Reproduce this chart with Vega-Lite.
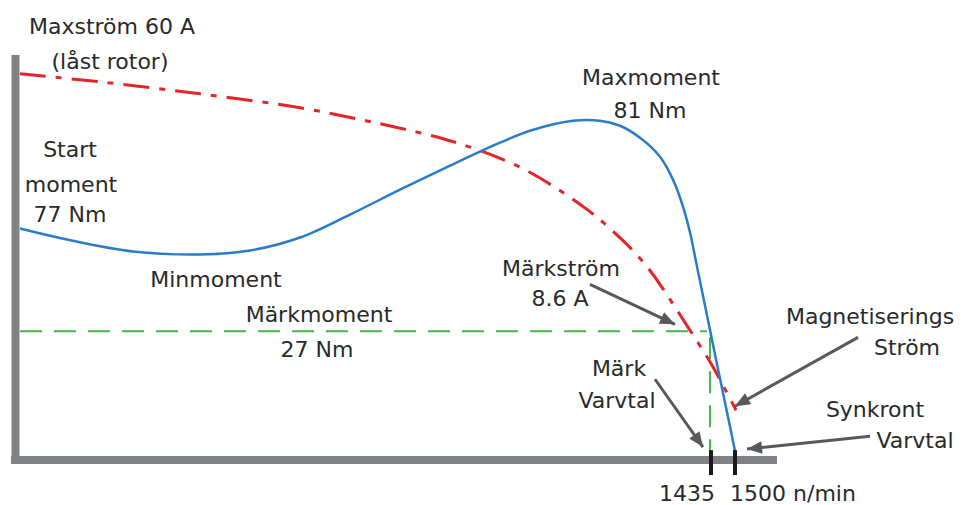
{
  "$schema": "https://vega.github.io/schema/vega-lite/v6.json",
  "width": 961,
  "height": 505,
  "autosize": {"type": "fit", "contains": "padding"},
  "padding": 0,
  "background": "white",
  "config": {"view": {"stroke": null}, "text": {"font": "DejaVu Sans", "fontSize": 22, "color": "#2a2a2a"}},
  "datasets": {
    "torque": [
      {"x": 20, "y": 276}, {"x": 67, "y": 265}, {"x": 133, "y": 253}, {"x": 200, "y": 250},
      {"x": 250, "y": 254}, {"x": 300, "y": 267}, {"x": 350, "y": 290}, {"x": 400, "y": 315},
      {"x": 450, "y": 339}, {"x": 500, "y": 362}, {"x": 530, "y": 374}, {"x": 573, "y": 384},
      {"x": 600, "y": 384}, {"x": 620, "y": 379}, {"x": 640, "y": 367}, {"x": 660, "y": 348},
      {"x": 673, "y": 325}, {"x": 683, "y": 298}, {"x": 690, "y": 272}, {"x": 697, "y": 238},
      {"x": 706, "y": 194}, {"x": 716, "y": 145}, {"x": 726, "y": 97}, {"x": 735, "y": 53}
    ],
    "current": [
      {"x": 20, "y": 431}, {"x": 100, "y": 423}, {"x": 200, "y": 411}, {"x": 300, "y": 397},
      {"x": 380, "y": 381}, {"x": 443, "y": 366}, {"x": 483, "y": 353}, {"x": 523, "y": 336},
      {"x": 557, "y": 316}, {"x": 590, "y": 293}, {"x": 610, "y": 276}, {"x": 630, "y": 257},
      {"x": 650, "y": 234}, {"x": 670, "y": 205}, {"x": 690, "y": 174}, {"x": 712, "y": 139},
      {"x": 736, "y": 94}
    ],
    "rated": [
      {"x": 20, "y": 173, "x2": 707, "y2": 173},
      {"x": 710, "y": 167, "x2": 710, "y2": 54}
    ],
    "frame": [
      {"x": 15.5, "y": 450, "x2": 15.5, "y2": 40},
      {"x": 11, "y": 44, "x2": 777, "y2": 44}
    ],
    "ticks": [
      {"x": 711, "label": "1435"},
      {"x": 735, "label": "1500"}
    ],
    "arrows": [
      {"x": 590, "y": 220, "x2": 675, "y2": 180},
      {"x": 858, "y": 167, "x2": 735, "y2": 98},
      {"x": 655, "y": 125, "x2": 703, "y2": 57},
      {"x": 870, "y": 68, "x2": 747, "y2": 55}
    ],
    "labels": [
      {"t": "Maxström 60 A", "x": 112, "y": 478},
      {"t": "(låst rotor)", "x": 110, "y": 443},
      {"t": "Start", "x": 70, "y": 355},
      {"t": "moment", "x": 71, "y": 320},
      {"t": "77 Nm", "x": 70, "y": 290},
      {"t": "Minmoment", "x": 216, "y": 224},
      {"t": "Märkmoment", "x": 319, "y": 189},
      {"t": "27 Nm", "x": 317, "y": 154},
      {"t": "Maxmoment", "x": 651, "y": 427},
      {"t": "81 Nm", "x": 650, "y": 394},
      {"t": "Märkström", "x": 561, "y": 235},
      {"t": "8.6 A", "x": 560, "y": 205},
      {"t": "Magnetiserings", "x": 870, "y": 187},
      {"t": "Ström", "x": 907, "y": 156},
      {"t": "Märk", "x": 619, "y": 135},
      {"t": "Varvtal", "x": 617, "y": 103},
      {"t": "Synkront", "x": 875, "y": 94},
      {"t": "Varvtal", "x": 915, "y": 63},
      {"t": "1435", "x": 687, "y": 10},
      {"t": "1500 n/min", "x": 793, "y": 10}
    ]
  },
  "layer": [
    {
      "data": {"name": "rated"},
      "mark": {"type": "rule", "color": "#45b649", "strokeWidth": 2, "strokeDash": [22, 12]},
      "encoding": {
        "x": {"field": "x", "type": "quantitative", "scale": {"domain": [0, 961], "nice": false, "zero": false}, "axis": null},
        "y": {"field": "y", "type": "quantitative", "scale": {"domain": [0, 505], "nice": false, "zero": false}, "axis": null},
        "x2": {"field": "x2"},
        "y2": {"field": "y2"}
      }
    },
    {
      "data": {"name": "current"},
      "mark": {"type": "line", "color": "#e52329", "strokeWidth": 3, "strokeDash": [26, 10, 6, 10], "interpolate": "catmull-rom"},
      "encoding": {
        "x": {"field": "x", "type": "quantitative"},
        "y": {"field": "y", "type": "quantitative"}
      }
    },
    {
      "data": {"name": "torque"},
      "mark": {"type": "line", "color": "#2a7cc7", "strokeWidth": 2.5, "interpolate": "catmull-rom"},
      "encoding": {
        "x": {"field": "x", "type": "quantitative"},
        "y": {"field": "y", "type": "quantitative"}
      }
    },
    {
      "data": {"name": "frame"},
      "mark": {"type": "rule", "color": "#808285", "strokeWidth": 8},
      "encoding": {
        "x": {"field": "x", "type": "quantitative"},
        "y": {"field": "y", "type": "quantitative"},
        "x2": {"field": "x2"},
        "y2": {"field": "y2"}
      }
    },
    {
      "data": {"name": "ticks"},
      "mark": {"type": "rule", "color": "#1a1a1a", "strokeWidth": 4},
      "encoding": {
        "x": {"field": "x", "type": "quantitative"},
        "y": {"datum": 54},
        "y2": {"datum": 29}
      }
    },
    {
      "data": {"name": "arrows"},
      "mark": {"type": "rule", "color": "#58595b", "strokeWidth": 3},
      "encoding": {
        "x": {"field": "x", "type": "quantitative"},
        "y": {"field": "y", "type": "quantitative"},
        "x2": {"field": "x2"},
        "y2": {"field": "y2"}
      }
    },
    {
      "data": {"name": "arrows"},
      "transform": [{"calculate": "atan2(datum.x2 - datum.x, datum.y2 - datum.y) * 180 / PI", "as": "ang"}],
      "mark": {"type": "point", "shape": "M0,0L0.42,1L-0.42,1Z", "filled": true, "color": "#58595b", "opacity": 1, "size": 900},
      "encoding": {
        "x": {"field": "x2", "type": "quantitative"},
        "y": {"field": "y2", "type": "quantitative"},
        "angle": {"field": "ang", "type": "quantitative", "scale": null}
      }
    },
    {
      "data": {"name": "labels"},
      "mark": {"type": "text", "align": "center", "baseline": "middle"},
      "encoding": {
        "x": {"field": "x", "type": "quantitative"},
        "y": {"field": "y", "type": "quantitative"},
        "text": {"field": "t"}
      }
    }
  ]
}
